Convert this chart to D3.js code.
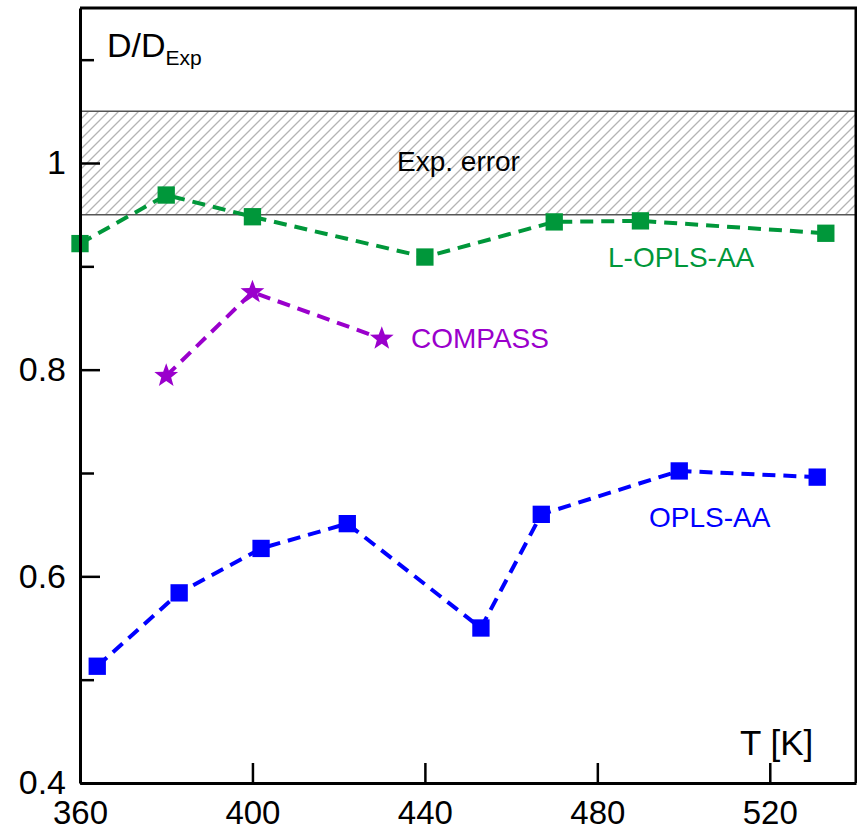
<!DOCTYPE html>
<html>
<head>
<meta charset="utf-8">
<script src="https://cdn.jsdelivr.net/npm/d3@7"></script>
<style>
  html, body { margin: 0; padding: 0; background: #fff; }
  svg { display: block; font-family: "Liberation Sans", Arial, sans-serif; }
</style>
</head>
<body>
<svg id="chart" width="857" height="832"></svg>
<script>
// Temperature (K) and normalised diffusion coefficient D/D_Exp per force field
const tempsLOPLS = [360, 380, 400, 440, 470, 490, 533];
const diffLOPLS  = [0.922, 0.969, 0.948, 0.909, 0.943, 0.944, 0.932];

const tempsCOMPASS = [380, 400, 430];
const diffCOMPASS  = [0.794, 0.875, 0.830];

const tempsOPLS = [364, 383, 402, 422, 453, 467, 499, 531];
const diffOPLS  = [0.513, 0.584, 0.627, 0.651, 0.550, 0.660, 0.702, 0.696];

// Experimental uncertainty band
const expErrorBand = [0.95, 1.05];

// Axis ticks
const xTicks = [360, 400, 440, 480, 520];
const yMajorTicks = [0.4, 0.6, 0.8, 1.0];
const yMinorTicks = [0.5, 0.7, 0.9, 1.1];
const yTickLabels = ["0.4", "0.6", "0.8", "1"];

const svg = d3.select("#chart");
const plotLeft = 80, plotRight = 856, plotTop = 8, plotBottom = 783;

const x = d3.scaleLinear().domain([360, 540]).range([plotLeft, plotRight]);
const y = d3.scaleLinear().domain([0.4, 1.15]).range([plotBottom, plotTop]);

// Hatch pattern for the error band
const defs = svg.append("defs");
const pat = defs.append("pattern")
  .attr("id", "hatch")
  .attr("patternUnits", "userSpaceOnUse")
  .attr("width", 10).attr("height", 10);
pat.append("path")
  .attr("d", "M-2,2 L2,-2 M0,10 L10,0 M8,12 L12,8")
  .attr("stroke", "#b4b4b4")
  .attr("stroke-width", 1.3)
  .attr("fill", "none");

svg.append("rect")
  .attr("x", plotLeft).attr("width", plotRight - plotLeft)
  .attr("y", y(expErrorBand[1]))
  .attr("height", y(expErrorBand[0]) - y(expErrorBand[1]))
  .attr("fill", "url(#hatch)");

expErrorBand.forEach(v => {
  svg.append("line")
    .attr("x1", plotLeft).attr("x2", plotRight)
    .attr("y1", y(v)).attr("y2", y(v))
    .attr("stroke", "#555")
    .attr("stroke-width", 1.5);
});

svg.append("text")
  .attr("x", 397).attr("y", 171)
  .attr("font-size", 28)
  .attr("fill", "#000")
  .text("Exp. error");

// Series
const series = [
  { t: tempsLOPLS, d: diffLOPLS, color: "#00973a", marker: "square" },
  { t: tempsCOMPASS, d: diffCOMPASS, color: "#9a00cc", marker: "star" },
  { t: tempsOPLS, d: diffOPLS, color: "#0000ff", marker: "square" }
];

const line = d3.line().x(p => x(p[0])).y(p => y(p[1]));

function starPath(R, r) {
  const pts = [];
  for (let i = 0; i < 10; i++) {
    const rad = i % 2 === 0 ? R : r;
    const a = -Math.PI / 2 + i * Math.PI / 5;
    pts.push([rad * Math.cos(a), rad * Math.sin(a)]);
  }
  return "M" + pts.map(p => p[0].toFixed(2) + "," + p[1].toFixed(2)).join("L") + "Z";
}

series.forEach(s => {
  const pts = s.t.map((t, i) => [t, s.d[i]]);
  svg.append("path")
    .attr("d", line(pts))
    .attr("fill", "none")
    .attr("stroke", s.color)
    .attr("stroke-width", 4)
    .attr("stroke-dasharray", "13,8");

  const g = svg.append("g");
  if (s.marker === "square") {
    g.selectAll("path").data(pts).join("path")
      .attr("transform", p => `translate(${x(p[0])},${y(p[1])})`)
      .attr("d", d3.symbol(d3.symbolSquare, 300)())
      .attr("fill", s.color);
  } else {
    g.selectAll("path").data(pts).join("path")
      .attr("transform", p => `translate(${x(p[0])},${y(p[1])})`)
      .attr("d", starPath(12.5, 5.2))
      .attr("fill", s.color);
  }
});

// Series labels
const labels = [
  { text: "L-OPLS-AA", x: 608, y: 267, color: "#00973a" },
  { text: "COMPASS", x: 411, y: 348, color: "#9a00cc" },
  { text: "OPLS-AA", x: 649, y: 527, color: "#0000ff" }
];
labels.forEach(l => {
  svg.append("text")
    .attr("x", l.x).attr("y", l.y)
    .attr("font-size", 28)
    .attr("fill", l.color)
    .text(l.text);
});

// Axes
const xAxis = d3.axisBottom(x)
  .tickValues(xTicks)
  .tickFormat(d3.format("d"))
  .tickSizeInner(-20)
  .tickSizeOuter(0)
  .tickPadding(18);
const gx = svg.append("g")
  .attr("transform", `translate(0,${plotBottom})`)
  .call(xAxis);
gx.select(".domain").attr("stroke-width", 3);
gx.selectAll(".tick line").attr("stroke-width", 2.5);
gx.selectAll(".tick text")
  .attr("font-size", 33)
  .attr("font-family", "Liberation Sans, Arial, sans-serif")
  .attr("fill", "#000");

const yAxis = d3.axisLeft(y)
  .tickValues(yMajorTicks)
  .tickFormat((d, i) => yTickLabels[i])
  .tickSizeInner(-20)
  .tickSizeOuter(0)
  .tickPadding(14);
const gy = svg.append("g")
  .attr("transform", `translate(${plotLeft},0)`)
  .call(yAxis);
gy.select(".domain").attr("stroke-width", 3);
gy.selectAll(".tick line").attr("stroke-width", 2.5);
gy.selectAll(".tick text")
  .attr("font-size", 34)
  .attr("font-family", "Liberation Sans, Arial, sans-serif")
  .attr("fill", "#000");

const yMinor = d3.axisLeft(y)
  .tickValues(yMinorTicks)
  .tickFormat("")
  .tickSizeInner(-14)
  .tickSizeOuter(0);
const gyMinor = svg.append("g")
  .attr("transform", `translate(${plotLeft},0)`)
  .call(yMinor);
gyMinor.select(".domain").remove();
gyMinor.selectAll(".tick line").attr("stroke-width", 2.5);

// Top and right frame
svg.append("path")
  .attr("d", `M${plotLeft},${plotTop}H${plotRight}V${plotBottom}`)
  .attr("fill", "none")
  .attr("stroke", "#000")
  .attr("stroke-width", 3);

// Axis titles
const yTitle = svg.append("text")
  .attr("x", 107).attr("y", 57)
  .attr("font-size", 34)
  .attr("fill", "#000");
yTitle.append("tspan").text("D/D");
yTitle.append("tspan")
  .attr("font-size", 21)
  .attr("dy", 8)
  .text("Exp");

svg.append("text")
  .attr("x", 740).attr("y", 755)
  .attr("font-size", 35)
  .attr("fill", "#000")
  .text("T [K]");
</script>
</body>
</html>
